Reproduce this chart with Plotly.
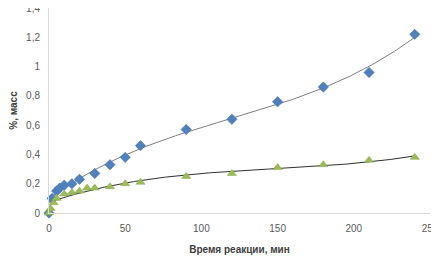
import numpy as np
import plotly.graph_objects as go

# Data
time_blue = [0, 2, 5, 7, 10, 15, 20, 30, 40, 50, 60, 90, 120, 150, 180, 210, 240]
val_blue = [0.0, 0.10, 0.15, 0.17, 0.19, 0.20, 0.23, 0.27, 0.33, 0.38, 0.46, 0.57, 0.64, 0.76, 0.86, 0.96, 1.22]

time_green = [0, 1, 3, 5, 10, 15, 20, 25, 30, 40, 50, 60, 90, 120, 150, 180, 210, 240]
val_green = [0.0, 0.03, 0.07, 0.10, 0.13, 0.14, 0.15, 0.17, 0.17, 0.18, 0.20, 0.21, 0.25, 0.27, 0.31, 0.33, 0.36, 0.38]

x_ticks = [0, 50, 100, 150, 200, 250]
y_ticks = [0, 0.2, 0.4, 0.6, 0.8, 1.0, 1.2, 1.4]

# Polynomial trend lines (Excel-style), fitted from the data
xs = np.linspace(0, 240, 200)
pb = np.polyfit(time_blue[1:], val_blue[1:], 3)
pg = np.polyfit(time_green[1:], val_green[1:], 3)

fig = go.Figure()
fig.add_trace(go.Scatter(x=xs, y=np.polyval(pb, xs), mode="lines",
                         line=dict(color="#7F7F7F", width=1), showlegend=False))
fig.add_trace(go.Scatter(x=xs, y=np.polyval(pg, xs), mode="lines",
                         line=dict(color="#303030", width=1), showlegend=False))
fig.add_trace(go.Scatter(x=time_blue, y=val_blue, mode="markers",
                         marker=dict(symbol="diamond", size=8, color="#4F81BD",
                                     line=dict(width=0.5, color="#3F6FA8")),
                         showlegend=False, cliponaxis=False))
fig.add_trace(go.Scatter(x=time_green, y=val_green, mode="markers",
                         marker=dict(symbol="triangle-up", size=8, color="#9BBB59",
                                     line=dict(width=0.5, color="#86A64A")),
                         showlegend=False, cliponaxis=False))

font = dict(family="Liberation Sans, Arial, sans-serif", size=10, color="#595959")
fig.update_layout(
    width=439, height=260,
    margin=dict(l=41, r=17, t=0, b=55, autoexpand=False),
    paper_bgcolor="white", plot_bgcolor="white",
    separators=", ",
    font=font,
    xaxis=dict(range=[0, 250], tickvals=x_ticks, showgrid=False, zeroline=False,
               showline=True, linecolor="#D9D9D9", linewidth=1, ticks="",
               automargin=False, ticklabeloverflow="allow", ticklabelstandoff=6,
               tickfont=dict(size=10, color="#595959"),
               title=dict(text="<b>Время реакции, мин</b>", standoff=12,
                          font=dict(size=10, color="#404040"))),
    yaxis=dict(range=[0, 1.4], tickvals=y_ticks, showgrid=False, zeroline=False,
               showline=True, linecolor="#D9D9D9", linewidth=1, ticks="",
               automargin=False, ticklabeloverflow="allow", ticklabelstandoff=6,
               tickfont=dict(size=10, color="#595959"),
               title=dict(text="<b>%, масс</b>", standoff=11,
                          font=dict(size=10, color="#404040"))),
)

fig.write_html("out.html")
